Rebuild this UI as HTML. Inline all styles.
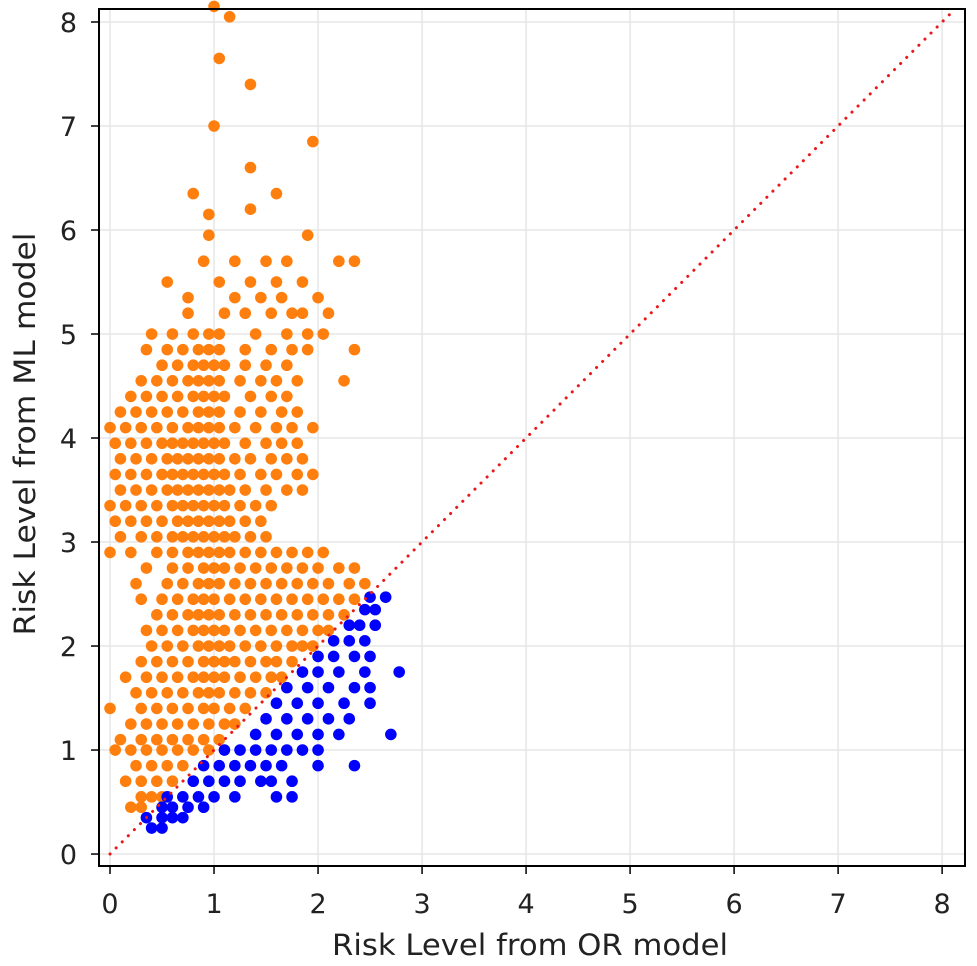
<!DOCTYPE html>
<html><head><meta charset="utf-8"><style>
body{margin:0;background:#fff;}
svg{display:block;font-family:"DejaVu Sans","Liberation Sans",sans-serif;}
</style></head><body>
<svg id="chart" width="977" height="966" viewBox="0 0 977 966"></svg>
<script>
// orange rows: [y, [x values]]
const orangeRows = [
[0.45,[0.2,0.3]],[0.55,[0.3,0.4,0.5]],[0.7,[0.15,0.3,0.45,0.6]],[0.85,[0.25,0.4,0.55,0.7]],
[1.0,[0.05,0.2,0.35,0.5,0.65,0.8,0.95]],[1.1,[0.1,0.3,0.45,0.6,0.75,0.9,1.05]],
[1.25,[0.2,0.35,0.5,0.65,0.8,0.95,1.1,1.2]],[1.4,[0.0,0.3,0.45,0.6,0.75,0.9,1.0,1.15,1.3]],
[1.55,[0.25,0.4,0.55,0.7,0.85,0.95,1.05,1.2,1.35,1.5]],
[1.7,[0.15,0.35,0.5,0.65,0.8,0.9,1.0,1.1,1.25,1.4,1.55,1.65]],
[1.85,[0.3,0.45,0.6,0.75,0.9,1.0,1.1,1.2,1.35,1.5,1.6,1.75]],
[2.0,[0.4,0.55,0.7,0.85,0.95,1.05,1.15,1.3,1.45,1.6,1.75,1.85,1.95]],
[2.15,[0.35,0.5,0.65,0.8,0.9,1.0,1.1,1.25,1.4,1.55,1.7,1.85,2.0,2.1]],
[2.3,[0.45,0.6,0.75,0.85,0.95,1.05,1.2,1.35,1.5,1.65,1.8,1.95,2.1,2.25]],
[2.45,[0.3,0.5,0.65,0.8,0.9,1.0,1.15,1.3,1.45,1.6,1.75,1.9,2.05,2.2,2.35]],
[2.6,[0.25,0.55,0.7,0.85,0.95,1.05,1.2,1.35,1.5,1.65,1.8,1.95,2.1,2.3,2.45]],
[2.75,[0.35,0.6,0.75,0.9,1.0,1.1,1.25,1.4,1.55,1.7,1.85,2.0,2.2,2.35]],
[2.9,[0.0,0.2,0.45,0.6,0.75,0.85,0.95,1.05,1.15,1.3,1.45,1.6,1.75,1.9,2.05]],
[3.05,[0.1,0.3,0.45,0.6,0.7,0.8,0.9,1.0,1.1,1.2,1.35,1.5]],
[3.2,[0.05,0.2,0.35,0.5,0.65,0.75,0.85,0.95,1.05,1.15,1.3,1.45]],
[3.35,[0.0,0.15,0.3,0.45,0.6,0.7,0.8,0.9,1.0,1.1,1.25,1.4,1.55]],
[3.5,[0.1,0.25,0.4,0.55,0.65,0.75,0.85,0.95,1.05,1.15,1.3,1.5,1.7,1.85]],
[3.65,[0.05,0.2,0.35,0.5,0.6,0.7,0.8,0.9,1.0,1.1,1.25,1.45,1.6,1.8,1.95]],
[3.8,[0.1,0.25,0.4,0.55,0.65,0.75,0.85,0.95,1.05,1.2,1.35,1.55,1.7,1.85]],
[3.95,[0.05,0.2,0.35,0.5,0.6,0.7,0.8,0.9,1.0,1.1,1.3,1.5,1.65,1.8]],
[4.1,[0.0,0.15,0.3,0.45,0.6,0.75,0.85,0.95,1.05,1.2,1.4,1.6,1.75,1.95]],
[4.25,[0.1,0.25,0.4,0.55,0.7,0.85,0.95,1.05,1.25,1.45,1.65,1.8]],
[4.4,[0.2,0.35,0.5,0.65,0.8,0.9,1.0,1.1,1.35,1.55,1.7]],
[4.55,[0.3,0.45,0.6,0.75,0.85,0.95,1.05,1.25,1.45,1.6,1.8,2.25]],
[4.7,[0.5,0.65,0.8,0.9,1.0,1.1,1.3,1.5,1.7]],
[4.85,[0.35,0.55,0.7,0.85,0.95,1.05,1.3,1.55,1.75,1.9,2.35]],
[5.0,[0.4,0.6,0.8,0.95,1.05,1.4,1.7,1.9,2.05]],
[5.2,[0.75,1.1,1.3,1.55,1.75,1.85,2.1]],
[5.35,[0.75,1.2,1.45,1.65,2.0]],
[5.5,[0.55,1.05,1.35,1.6,1.85]],
[5.7,[0.9,1.2,1.5,1.7,2.2,2.35]],
[5.95,[0.95,1.9]],[6.15,[0.95]],[6.2,[1.35]],[6.35,[0.8,1.6]],[6.6,[1.35]],
[6.85,[1.95]],[7.0,[1.0]],[7.4,[1.35]],[7.65,[1.05]],[8.05,[1.15]],[8.15,[1.0]]
];
// blue rows: [y, [x values]]
const blueRows = [
[0.25,[0.4,0.5]],[0.35,[0.35,0.5,0.6,0.7]],[0.45,[0.5,0.6,0.75,0.9]],
[0.55,[0.55,0.7,0.85,1.0,1.2,1.6,1.75]],[0.7,[0.8,0.95,1.1,1.25,1.45,1.55,1.75]],
[0.85,[0.9,1.05,1.2,1.35,1.5,1.65,2.0,2.35]],[1.0,[1.1,1.25,1.4,1.55,1.7,1.85,2.0]],
[1.15,[1.4,1.6,1.8,2.0,2.2,2.7]],[1.3,[1.5,1.7,1.9,2.1,2.3]],[1.45,[1.6,1.8,2.0,2.25,2.5]],
[1.6,[1.7,1.9,2.1,2.35,2.5]],[1.75,[1.85,2.0,2.2,2.45,2.78]],[1.9,[2.0,2.15,2.35,2.5]],
[2.05,[2.15,2.3,2.45]],[2.2,[2.3,2.4,2.55]],[2.35,[2.45,2.55]],[2.47,[2.5,2.65]]
];
const xTicks = [0,1,2,3,4,5,6,7,8];
const yTicks = [0,1,2,3,4,5,6,7,8];
const xDomain = [-0.106, 8.22];
const yDomain = [-0.115, 8.125];

const NS = "http://www.w3.org/2000/svg";
const svg = document.getElementById('chart');
const L=99, R=965, T=9, B=866;
const sx = v => L + (v - xDomain[0]) / (xDomain[1]-xDomain[0]) * (R-L);
const sy = v => B - (v - yDomain[0]) / (yDomain[1]-yDomain[0]) * (B-T);
function mk(tag, attrs, parent){const e=document.createElementNS(NS,tag);for(const k in attrs)e.setAttribute(k,attrs[k]);(parent||svg).appendChild(e);return e;}

const grid = mk('g',{});


xTicks.forEach(t=>{
  const l=mk('line',{x1:sx(t),x2:sx(t),y1:T,y2:B,stroke:'#e6e6e6','stroke-width':1.5},grid);
  
  
});
yTicks.forEach(t=>{
  const l=mk('line',{x1:L,x2:R,y1:sy(t),y2:sy(t),stroke:'#e6e6e6','stroke-width':1.5},grid);
  
  
});

const og = mk('g',{fill:'#ff7f0e'});


orangeRows.forEach(r=>r[1].forEach(x=>{
  const c=mk('circle',{cx:sx(x),cy:sy(r[0]),r:5.8},og);
  
  
}));
const bg = mk('g',{fill:'#0000ff'});


blueRows.forEach(r=>r[1].forEach(x=>{
  const c=mk('circle',{cx:sx(x),cy:sy(r[0]),r:5.8},bg);
  
  
}));

const diag = mk('line',{x1:sx(0),y1:sy(0),x2:sx(8.125),y2:sy(8.125),stroke:'#e8191a','stroke-width':3,'stroke-dasharray':'0.1 8.5','stroke-linecap':'round'});



const frame = mk('rect',{x:L,y:T,width:R-L,height:B-T,fill:'none',stroke:'#000','stroke-width':2});



xTicks.forEach(t=>{
  const l=mk('line',{x1:sx(t),x2:sx(t),y1:B,y2:B+8,stroke:'#000','stroke-width':1.5});
  
  
  const tx=mk('text',{x:sx(t),y:B+47,'text-anchor':'middle','font-size':27,fill:'#222'});
  tx.textContent=t;
  
  
});
yTicks.forEach(t=>{
  const l=mk('line',{x1:L-8,x2:L,y1:sy(t),y2:sy(t),stroke:'#000','stroke-width':1.5});
  
  
  const tx=mk('text',{x:L-22,y:sy(t)+10,'text-anchor':'end','font-size':27,fill:'#222'});
  tx.textContent=t;
  
  
});
const xt=mk('text',{x:530,y:955,'text-anchor':'middle','font-size':29,fill:'#222',textLength:396,lengthAdjust:'spacingAndGlyphs'});
xt.textContent='Risk Level from OR model';


const yt=mk('text',{x:0,y:0,'text-anchor':'middle','font-size':29,fill:'#222',textLength:403,lengthAdjust:'spacingAndGlyphs',transform:'translate(35,434) rotate(-90)'});
yt.textContent='Risk Level from ML model';


</script>
</body></html>
